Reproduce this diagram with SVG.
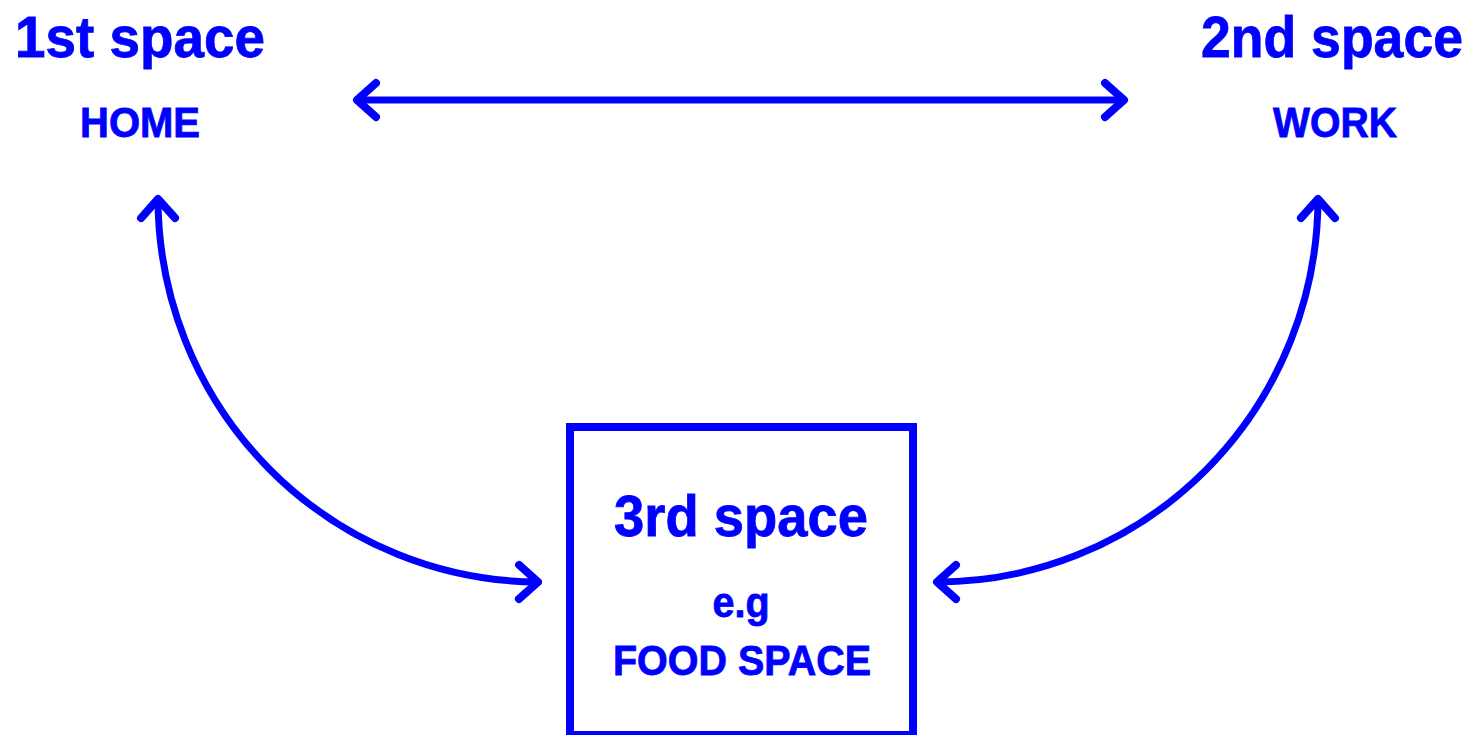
<svg xmlns="http://www.w3.org/2000/svg" width="1480" height="735" viewBox="0 0 1480 735">
  <style>
    .t { font-family: "Liberation Sans", Arial, sans-serif; font-weight: bold; fill: #0000FF; stroke: #0000FF; stroke-width: 0.8; text-anchor: middle; }
    .big { font-size: 57px; }
    .small { font-size: 42px; }
    .conn { fill: none; stroke: #0000FF; stroke-width: 7; stroke-linecap: butt; }
  </style>
  <defs>
    <marker id="ah" markerUnits="userSpaceOnUse" viewBox="-30 -25 40 50" refX="0" refY="0" markerWidth="40" markerHeight="50" orient="auto-start-reverse">
      <path d="M-19,-17 L0,0 L-19,17" fill="none" stroke="#0000FF" stroke-width="8" stroke-linecap="round" stroke-linejoin="round"/>
    </marker>
  </defs>
  <rect width="1480" height="735" fill="#FFFFFF"/>
  <g id="connectors">
    <path class="conn" d="M357,100 L1124,100" marker-start="url(#ah)" marker-end="url(#ah)"/>
    <path class="conn" d="M158,199 A382,384 0 0 0 538,582" marker-start="url(#ah)" marker-end="url(#ah)"/>
    <path class="conn" d="M1318,199 A381,384 0 0 1 937,582" marker-start="url(#ah)" marker-end="url(#ah)"/>
  </g>
  <g id="node-home">
    <text class="t big" x="140" y="57" textLength="250" lengthAdjust="spacingAndGlyphs">1st space</text>
    <text class="t small" x="140" y="137" textLength="120" lengthAdjust="spacingAndGlyphs">HOME</text>
  </g>
  <g id="node-work">
    <text class="t big" x="1332" y="57" textLength="262" lengthAdjust="spacingAndGlyphs">2nd space</text>
    <text class="t small" x="1335" y="137" textLength="124" lengthAdjust="spacingAndGlyphs">WORK</text>
  </g>
  <g id="node-third">
    <rect x="570" y="427" width="343" height="308" fill="none" stroke="#0000FF" stroke-width="8"/>
    <text class="t big" x="741" y="536" textLength="254" lengthAdjust="spacingAndGlyphs">3rd space</text>
    <text class="t small" x="741" y="617" textLength="57" lengthAdjust="spacingAndGlyphs">e.g</text>
    <text class="t small" x="742" y="675" textLength="258" lengthAdjust="spacingAndGlyphs">FOOD SPACE</text>
  </g>
</svg>
